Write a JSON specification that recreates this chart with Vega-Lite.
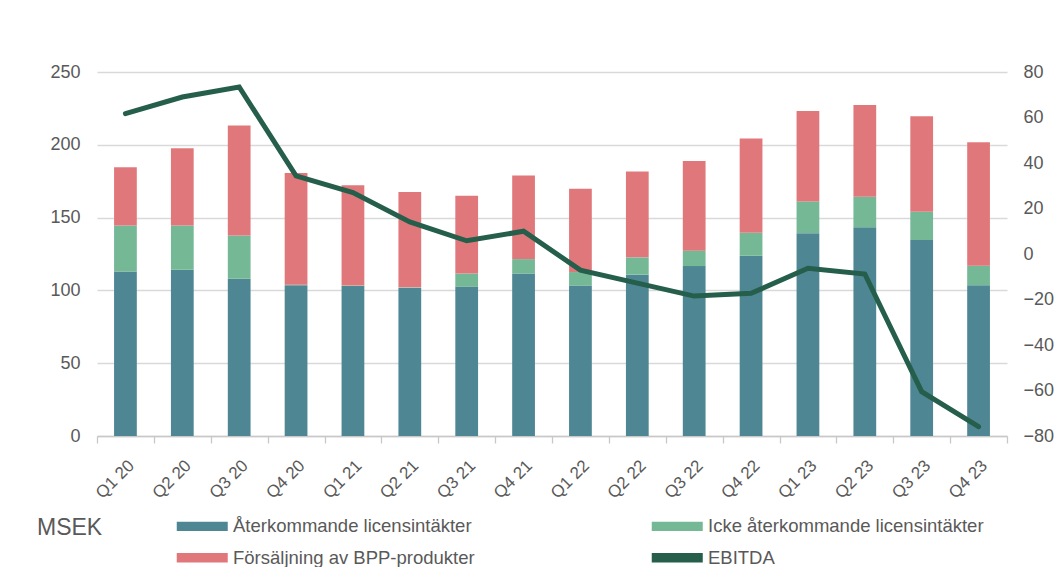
{
  "$schema": "https://vega.github.io/schema/vega-lite/v6.json",
  "width": 910,
  "height": 364,
  "autosize": {"type": "none"},
  "padding": {"left": 97, "top": 72, "right": 50, "bottom": 131},
  "background": "white",
  "config": {
    "view": {"stroke": null},
    "font": "Liberation Sans",
    "axis": {"labelColor": "#595959", "labelFont": "Liberation Sans"},
    "legend": {"labelFont": "Liberation Sans", "titleFont": "Liberation Sans"}
  },
  "datasets": {
    "bars": [
      {"q": "Q1 20", "serie": "Återkommande licensintäkter", "k": 1, "v": 113},
      {"q": "Q1 20", "serie": "Icke återkommande licensintäkter", "k": 2, "v": 31.6},
      {"q": "Q1 20", "serie": "Försäljning av BPP-produkter", "k": 3, "v": 40},
      {"q": "Q2 20", "serie": "Återkommande licensintäkter", "k": 1, "v": 114.2},
      {"q": "Q2 20", "serie": "Icke återkommande licensintäkter", "k": 2, "v": 30.4},
      {"q": "Q2 20", "serie": "Försäljning av BPP-produkter", "k": 3, "v": 53.1},
      {"q": "Q3 20", "serie": "Återkommande licensintäkter", "k": 1, "v": 108},
      {"q": "Q3 20", "serie": "Icke återkommande licensintäkter", "k": 2, "v": 29.7},
      {"q": "Q3 20", "serie": "Försäljning av BPP-produkter", "k": 3, "v": 75.5},
      {"q": "Q4 20", "serie": "Återkommande licensintäkter", "k": 1, "v": 103.6},
      {"q": "Q4 20", "serie": "Icke återkommande licensintäkter", "k": 2, "v": 0.3},
      {"q": "Q4 20", "serie": "Försäljning av BPP-produkter", "k": 3, "v": 76.8},
      {"q": "Q1 21", "serie": "Återkommande licensintäkter", "k": 1, "v": 103},
      {"q": "Q1 21", "serie": "Icke återkommande licensintäkter", "k": 2, "v": 0.3},
      {"q": "Q1 21", "serie": "Försäljning av BPP-produkter", "k": 3, "v": 69},
      {"q": "Q2 21", "serie": "Återkommande licensintäkter", "k": 1, "v": 101.9},
      {"q": "Q2 21", "serie": "Icke återkommande licensintäkter", "k": 2, "v": 0.2},
      {"q": "Q2 21", "serie": "Försäljning av BPP-produkter", "k": 3, "v": 65.4},
      {"q": "Q3 21", "serie": "Återkommande licensintäkter", "k": 1, "v": 102.6},
      {"q": "Q3 21", "serie": "Icke återkommande licensintäkter", "k": 2, "v": 9},
      {"q": "Q3 21", "serie": "Försäljning av BPP-produkter", "k": 3, "v": 53.4},
      {"q": "Q4 21", "serie": "Återkommande licensintäkter", "k": 1, "v": 111.6},
      {"q": "Q4 21", "serie": "Icke återkommande licensintäkter", "k": 2, "v": 9.9},
      {"q": "Q4 21", "serie": "Försäljning av BPP-produkter", "k": 3, "v": 57.4},
      {"q": "Q1 22", "serie": "Återkommande licensintäkter", "k": 1, "v": 103.3},
      {"q": "Q1 22", "serie": "Icke återkommande licensintäkter", "k": 2, "v": 9.3},
      {"q": "Q1 22", "serie": "Försäljning av BPP-produkter", "k": 3, "v": 57.2},
      {"q": "Q2 22", "serie": "Återkommande licensintäkter", "k": 1, "v": 110.8},
      {"q": "Q2 22", "serie": "Icke återkommande licensintäkter", "k": 2, "v": 11.9},
      {"q": "Q2 22", "serie": "Försäljning av BPP-produkter", "k": 3, "v": 58.9},
      {"q": "Q3 22", "serie": "Återkommande licensintäkter", "k": 1, "v": 116.7},
      {"q": "Q3 22", "serie": "Icke återkommande licensintäkter", "k": 2, "v": 10.6},
      {"q": "Q3 22", "serie": "Försäljning av BPP-produkter", "k": 3, "v": 61.5},
      {"q": "Q4 22", "serie": "Återkommande licensintäkter", "k": 1, "v": 123.8},
      {"q": "Q4 22", "serie": "Icke återkommande licensintäkter", "k": 2, "v": 15.8},
      {"q": "Q4 22", "serie": "Försäljning av BPP-produkter", "k": 3, "v": 64.7},
      {"q": "Q1 23", "serie": "Återkommande licensintäkter", "k": 1, "v": 139.3},
      {"q": "Q1 23", "serie": "Icke återkommande licensintäkter", "k": 2, "v": 21.8},
      {"q": "Q1 23", "serie": "Försäljning av BPP-produkter", "k": 3, "v": 62.2},
      {"q": "Q2 23", "serie": "Återkommande licensintäkter", "k": 1, "v": 143.4},
      {"q": "Q2 23", "serie": "Icke återkommande licensintäkter", "k": 2, "v": 20.9},
      {"q": "Q2 23", "serie": "Försäljning av BPP-produkter", "k": 3, "v": 63.1},
      {"q": "Q3 23", "serie": "Återkommande licensintäkter", "k": 1, "v": 134.6},
      {"q": "Q3 23", "serie": "Icke återkommande licensintäkter", "k": 2, "v": 19.4},
      {"q": "Q3 23", "serie": "Försäljning av BPP-produkter", "k": 3, "v": 65.6},
      {"q": "Q4 23", "serie": "Återkommande licensintäkter", "k": 1, "v": 103.6},
      {"q": "Q4 23", "serie": "Icke återkommande licensintäkter", "k": 2, "v": 13.4},
      {"q": "Q4 23", "serie": "Försäljning av BPP-produkter", "k": 3, "v": 84.7}
    ],
    "line": [
      {"q": "Q1 20", "ebitda": 61.7},
      {"q": "Q2 20", "ebitda": 69},
      {"q": "Q3 20", "ebitda": 73.4},
      {"q": "Q4 20", "ebitda": 34.3},
      {"q": "Q1 21", "ebitda": 27},
      {"q": "Q2 21", "ebitda": 14.1},
      {"q": "Q3 21", "ebitda": 5.8},
      {"q": "Q4 21", "ebitda": 10},
      {"q": "Q1 22", "ebitda": -7.1},
      {"q": "Q2 22", "ebitda": -12.8},
      {"q": "Q3 22", "ebitda": -18.5},
      {"q": "Q4 22", "ebitda": -17.3},
      {"q": "Q1 23", "ebitda": -6.3},
      {"q": "Q2 23", "ebitda": -8.8},
      {"q": "Q3 23", "ebitda": -60.5},
      {"q": "Q4 23", "ebitda": -75.9}
    ]
  },
  "layer": [
    {
      "data": {"name": "bars"},
      "mark": {"type": "bar", "width": {"band": 0.4}},
      "encoding": {
        "x": {
          "field": "q", "type": "ordinal", "sort": null,
          "scale": {"paddingInner": 0, "paddingOuter": 0},
          "axis": {
            "title": null, "labelAngle": -45, "labelFontSize": 17, "labelPadding": 14,
            "ticks": true, "tickBand": "extent", "tickSize": 7, "tickColor": "#c8c8c8", "tickWidth": 1.3,
            "domainColor": "#c8c8c8", "domainWidth": 1.3, "grid": false
          }
        },
        "y": {
          "field": "v", "type": "quantitative", "stack": "zero",
          "scale": {"domain": [0, 250], "nice": false},
          "axis": {
            "title": null, "orient": "left", "values": [0, 50, 100, 150, 200, 250],
            "grid": true, "gridColor": "#d9d9d9", "gridWidth": 1.3, "domain": false, "ticks": false,
            "labelPadding": 17, "labelFontSize": 18
          }
        },
        "order": {"field": "k", "type": "quantitative", "sort": "ascending"},
        "color": {
          "field": "serie", "type": "nominal",
          "scale": {
            "domain": ["Återkommande licensintäkter", "Icke återkommande licensintäkter", "Försäljning av BPP-produkter", "EBITDA"],
            "range": ["#4e8693", "#74b896", "#e0787b", "#255e4b"]
          },
          "legend": {
            "orient": "none", "legendX": -60, "legendY": 445, "columns": 2,
            "values": ["Återkommande licensintäkter", "Försäljning av BPP-produkter", "Icke återkommande licensintäkter", "EBITDA"],
            "title": "MSEK", "titleOrient": "left", "titleAnchor": "start", "titleFontSize": 23, "titleFontWeight": "normal",
            "titleColor": "#595959", "titlePadding": 90, "titleBaseline": "top",
            "labelFontSize": 18.5, "labelColor": "#595959", "labelLimit": 400, "labelOffset": 21.5,
            "symbolType": "M-4.25,-0.79H4.25V0.79H-4.25Z", "symbolSize": 144, "symbolStrokeWidth": 0,
            "columnPadding": 176, "rowPadding": 12.5
          }
        }
      }
    },
    {
      "data": {"name": "line"},
      "mark": {"type": "line", "strokeWidth": 5, "strokeCap": "round"},
      "encoding": {
        "x": {"field": "q", "type": "ordinal", "sort": null},
        "y": {
          "field": "ebitda", "type": "quantitative",
          "scale": {"domain": [-80, 80], "nice": false},
          "axis": {
            "title": null, "orient": "right", "values": [-80, -60, -40, -20, 0, 20, 40, 60, 80],
            "grid": false, "domain": false, "ticks": false, "labelPadding": 16, "labelFontSize": 18
          }
        },
        "color": {"datum": "EBITDA"}
      }
    }
  ],
  "resolve": {"scale": {"y": "independent"}}
}
